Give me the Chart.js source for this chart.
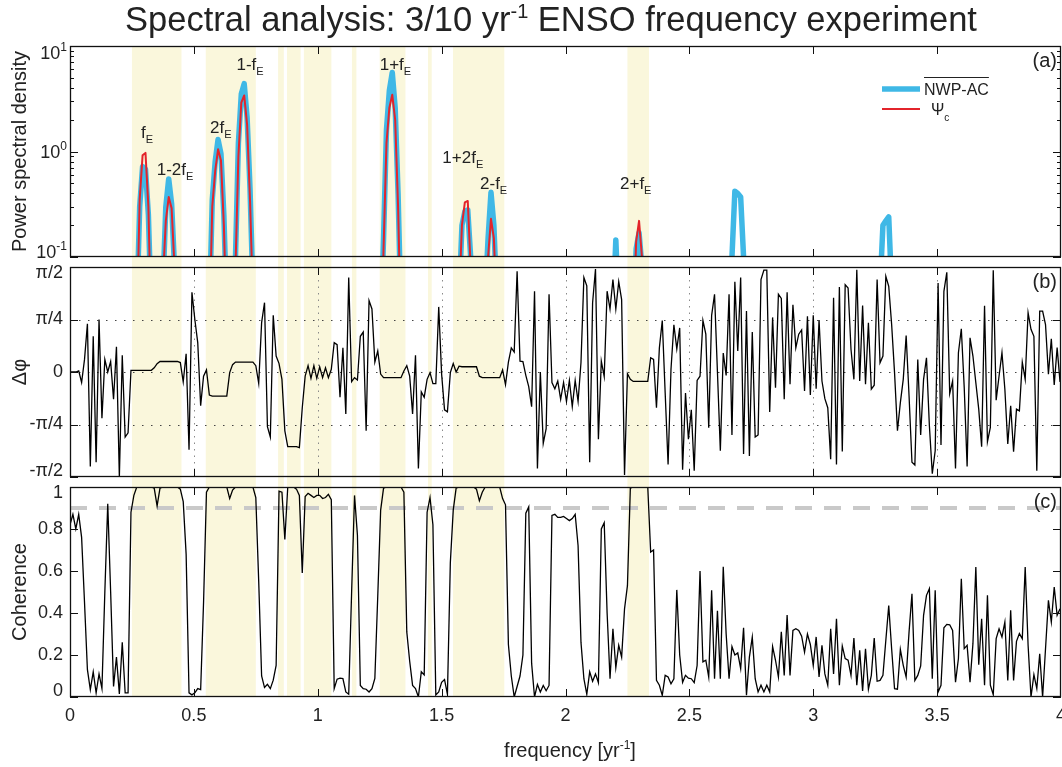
<!DOCTYPE html>
<html>
<head>
<meta charset="utf-8">
<title>Spectral analysis: 3/10 yr-1 ENSO frequency experiment</title>
<script src="https://cdn.jsdelivr.net/npm/chart.js@4.4.1/dist/chart.umd.min.js"></script>
<style>
  body { margin: 0; background: #fff; }
  #wrap { position: relative; width: 1062px; height: 767px; }
  #wrap canvas { position: absolute; left: 0; top: 0; }
</style>
</head>
<body>
<div id="wrap">
  <canvas id="psdChart" width="1062" height="767"></canvas>
  <canvas id="phaseChart" width="1062" height="767"></canvas>
  <canvas id="cohChart" width="1062" height="767"></canvas>
</div>
<script>
// ---- data ---------------------------------------------------------------

// spectral resolution of the estimates [yr^-1]
const DF = 12 / 1024;

const freqTicks = [0, 0.5, 1, 1.5, 2, 2.5, 3, 3.5, 4];
const psdMajorTicks = [0.1, 1, 10];
const psdMinorTicks = [0.2, 0.3, 0.4, 0.5, 0.6, 0.7, 0.8, 0.9, 2, 3, 4, 5, 6, 7, 8, 9];
const phaseTickValues = [-0.5, -0.25, 0, 0.25, 0.5];
const phaseTickLabels = ['-\u03c0/2', '-\u03c0/4', '0', '\u03c0/4', '\u03c0/2'];
const cohTickValues = [0, 0.2, 0.4, 0.6, 0.8, 1];
const cohTickLabels = ['0', '0.2', '0.4', '0.6', '0.8', '1'];
const cohThreshold = 0.9;

// frequency bands where coherence is high (shaded)
const bands = [
  [0.25, 0.45], [0.548, 0.75], [0.84, 0.863], [0.876, 0.931], [0.944, 1.055],
  [1.138, 1.156], [1.25, 1.354], [1.445, 1.46], [1.546, 1.753], [2.25, 2.337]
];

// power spectral density around the peaks: grid index (freq = idx * DF) and value
const nwpIdx = [23, 24, 25, 26, 27, 28, 32, 33, 34, 35, 36, 37, 48, 49, 50, 51, 52, 53, 54,
  57, 58, 59, 60, 61, 62, 63, 107, 108, 109, 110, 111, 112, 113, 114, 134, 135, 136, 137, 138, 139,
  143, 144, 145, 146, 147, 187, 188, 189, 194, 195, 196, 197, 198, 227, 228, 229, 230, 231, 232, 233,
  279, 280, 281, 282, 283];
const nwpPsd = [0.03, 0.3, 0.72, 0.68, 0.25, 0.03, 0.05, 0.3, 0.55, 0.32, 0.08, 0.02,
  0.03, 0.35, 0.8, 1.3, 0.95, 0.25, 0.03, 0.1, 1.2, 3.5, 4.4, 2.1, 0.45, 0.05,
  0.02, 0.15, 1.6, 3.8, 5.6, 2.6, 0.4, 0.03, 0.04, 0.2, 0.27, 0.28, 0.1, 0.02,
  0.04, 0.15, 0.41, 0.2, 0.04, 0.03, 0.145, 0.03, 0.02, 0.12, 0.17, 0.08, 0.02,
  0.02, 0.1, 0.42, 0.4, 0.37, 0.1, 0.02, 0.05, 0.2, 0.22, 0.24, 0.05];
const psiIdx = [23, 24, 25, 26, 27, 28, 32, 33, 34, 35, 36, 37, 48, 49, 50, 51, 52, 53, 54,
  57, 58, 59, 60, 61, 62, 63, 107, 108, 109, 110, 111, 112, 113, 114, 134, 135, 136, 137, 138, 139,
  143, 144, 145, 146, 147, 194, 195, 196, 197, 198];
const psiPsd = [0.02, 0.35, 0.92, 0.97, 0.3, 0.02, 0.06, 0.22, 0.37, 0.29, 0.08, 0.02,
  0.02, 0.3, 0.65, 1.05, 0.82, 0.2, 0.02, 0.08, 0.9, 2.9, 3.4, 1.8, 0.35, 0.04,
  0.01, 0.12, 1.2, 2.6, 3.45, 2.0, 0.3, 0.02, 0.04, 0.2, 0.33, 0.34, 0.08, 0.02,
  0.03, 0.1, 0.23, 0.15, 0.03, 0.02, 0.14, 0.22, 0.1, 0.02];

// peak names (subscript E) with anchor frequency and psd of their baseline
const peakNames = ['f', '1-2f', '2f', '1-f', '1+f', '1+2f', '2-f', '2+f'];
const peakNameFreq = [0.287, 0.35, 0.565, 0.672, 1.25, 1.503, 1.655, 2.22];
const peakNamePsd = [1.33, 0.605, 1.51, 5.98, 5.98, 0.775, 0.44, 0.437];

// phase difference, in units of pi
const phaseOverPi = [
  0, 0, 0, 0.005, -0.05, 0.06, 0.23, -0.45, 0.17, -0.43,
  0.25, -0.22, 0.06, 0, 0.05, -0.13, 0.12, -0.5, 0.08, -0.31,
  -0.29, 0.008, 0.008, 0.008, 0.008, 0.008, 0.008, 0.008, 0.008, 0.02,
  0.04, 0.05, 0.05, 0.05, 0.05, 0.05, 0.05, 0.05, 0.045, -0.047,
  0.087, -0.37, 0.38, 0.25, 0.14, -0.16, -0.02, 0.01, -0.11, -0.115,
  -0.115, -0.115, -0.115, -0.115, -0.115, -0.003, 0.035, 0.047, 0.047, 0.047,
  0.047, 0.047, 0.047, 0.047, 0.03, -0.054, 0.235, 0.33, -0.26, -0.31,
  0.27, 0.076, 0.04, -0.035, -0.28, -0.355, -0.355, -0.355, -0.355, -0.36,
  -0.17, -0.02, 0.03, -0.03, 0.03, -0.03, 0.025, -0.027, 0.02, -0.027,
  0.013, 0.14, 0.13, -0.12, 0.115, -0.2, 0.45, -0.046, -0.027, -0.038,
  0.17, 0.19, -0.28, 0.34, 0.3, 0.047, 0.1, -0.01, -0.027, -0.027,
  -0.027, -0.027, -0.027, -0.027, -0.027, 0.005, 0.03, -0.02, -0.2, 0.08,
  -0.46, -0.095, -0.12, -0.035, -0.003, -0.055, -0.055, 0.31, -0.01, -0.18,
  -0.19, -0.003, 0.04, 0, 0.028, 0.025, 0.025, 0.025, 0.025, 0.025,
  0.025, -0.02, -0.027, -0.027, -0.027, -0.027, -0.027, -0.027, -0.027, 0.01,
  -0.06, 0.047, 0.115, 0.095, 0.48, 0.052, 0.05, -0.016, -0.07, -0.165,
  0.385, -0.46, 0, -0.34, -0.27, 0.37, -0.05, -0.08, -0.043, -0.13,
  -0.05, -0.14, -0.04, -0.165, -0.04, -0.14, 0.045, 0.45, 0.41, -0.43,
  0.33, 0.49, -0.32, 0.052, -0.022, 0.385, 0.3, 0.44, 0.3, 0.43,
  0.345, -0.49, -0.008, -0.035, -0.045, -0.045, -0.045, -0.045, -0.045, -0.045,
  0.068, 0.06, -0.17, 0.115, 0.245, -0.1, -0.44, 0.013, 0.225, 0.11,
  0.21, -0.465, -0.1, -0.32, -0.18, -0.47, -0.04, -0.02, 0.245, 0.18,
  -0.265, 0.27, 0.37, 0, -0.375, 0.09, -0.016, 0.37, -0.3, 0.43,
  0.1, 0.45, -0.39, 0.29, -0.4, 0.19, -0.31, -0.3, 0.44, 0.485,
  0.485, -0.19, 0.26, -0.075, 0.37, 0.35, -0.13, 0.38, -0.058, 0.32,
  0.115, 0.18, 0.2, -0.09, 0.265, -0.11, 0.27, -0.08, 0.247, -0.043,
  -0.127, -0.17, -0.415, 0.353, -0.44, 0.405, -0.378, 0.416, 0.4, 0.108,
  -0.035, 0.487, -0.043, 0.316, -0.058, 0.234, -0.082, -0.063, 0.44, 0.044,
  0.076, 0.456, 0.408, 0.226, -0.003, -0.28, -0.146, -0.035, 0.174, -0.114,
  -0.43, -0.443, 0.06, -0.3, -0.035, 0.068, -0.256, -0.484, -0.375, 0.424,
  -0.348, 0.384, 0.475, -0.103, -0.043, -0.46, 0.092, 0.206, -0.074, -0.45,
  0.163, 0.076, -0.051, -0.177, -0.356, 0.316, -0.332, -0.264, 0.484, -0.134,
  -0.019, 0.092, -0.082, -0.343, -0.161, -0.38, -0.177, -0.185, 0.047, -0.035,
  0.282, 0.203, 0.17, -0.47, 0.29, 0.29, 0.226, -0.011, 0.158, -0.062,
  0.116, -0.047
];

// squared coherence
const coherence = [
  0.82, 0.87, 0.8, 0.87, 0.76, 0.45, 0.13, 0.035, 0.12, 0.02,
  0.11, 0.04, 0.5, 0.92, 0.5, 0.05, 0.19, 0.015, 0.26, 0.02,
  0.02, 0.88, 0.96, 1, 1, 1, 1, 1, 1, 0.995,
  0.91, 0.995, 1, 1, 1, 1, 1, 1, 0.99, 0.93,
  0.68, 0.02, 0.01, 0.02, 0.04, 0.035, 0.45, 0.975, 1, 1,
  1, 1, 1, 1, 1, 0.945, 0.985, 1, 1, 1,
  1, 1, 1, 1, 0.95, 0.55, 0.1, 0.045, 0.06, 0.04,
  0.08, 0.15, 0.98, 0.975, 0.75, 1, 1, 1, 0.99, 0.96,
  0.59, 0.955, 0.97, 0.96, 0.95, 0.96, 0.96, 0.945, 0.95, 0.965,
  0.94, 0.04, 0.085, 0.09, 0.088, 0.024, 0.013, 0.5, 0.96, 0.77,
  0.055, 0.04, 0.037, 0.024, 0.04, 0.088, 0.48, 0.89, 0.995, 1,
  1, 1, 1, 1, 1, 0.975, 0.31, 0.17, 0.055, 0.04,
  0, 0.12, 0.105, 0.88, 0.95, 0.82, 0.01, 0.024, 0.07, 0.083,
  0.013, 0.64, 0.89, 0.995, 1, 1, 1, 1, 1, 1,
  0.99, 0.935, 0.975, 1, 1, 1, 1, 1, 1, 0.945,
  0.915, 0.25, 0.1, 0, 0.05, 0.1, 0.2, 0.875, 0.905, 0.16,
  0, 0.06, 0.024, 0.055, 0.03, 0.055, 0.865, 0.87, 0.855, 0.855,
  0.86, 0.85, 0.84, 0.85, 0.87, 0.72, 0.26, 0.087, 0.013, 0.12,
  0.075, 0.11, 0.068, 0.8, 0.83, 0.4, 0.087, 0.325, 0.14, 0.246,
  0.19, 0.42, 0.53, 0.995, 1, 1, 1, 1, 1, 1,
  0.69, 0.7, 0.08, 0.056, 0.008, 0.103, 0.095, 0.063, 0.087, 0.51,
  0.2, 0.07, 0.103, 0.09, 0.087, 0.068, 0.15, 0.6, 0.167, 0.175,
  0.095, 0.508, 0.087, 0.41, 0.087, 0.62, 0.3, 0.087, 0.24, 0.2,
  0.21, 0.135, 0.33, 0.008, 0.19, 0.285, 0.087, 0.024, 0.056, 0.024,
  0.056, 0.024, 0.24, 0.175, 0.095, 0.31, 0.103, 0.39, 0.103, 0.317,
  0.325, 0.317, 0.29, 0.214, 0.3, 0.25, 0.15, 0.286, 0.095, 0.246,
  0.11, 0.056, 0.325, 0.11, 0.373, 0.056, 0.243, 0.183, 0.175, 0.103,
  0.281, 0.056, 0.222, 0.029, 0.23, 0.037, 0.103, 0.281, 0.075, 0.079,
  0.103, 0.27, 0.435, 0.23, 0.04, 0.037, 0.227, 0.151, 0.095, 0.31,
  0.492, 0.079, 0.103, 0.148, 0.389, 0.484, 0.516, 0.087, 0.508, 0.024,
  0.056, 0.33, 0.346, 0.344, 0.317, 0.071, 0.183, 0.563, 0.23, 0.246,
  0.071, 0.254, 0.619, 0.154, 0.373, 0.056, 0.484, 0.056, 0.011, 0.278,
  0.325, 0.286, 0.357, 0.079, 0.413, 0.079, 0.265, 0.302, 0.278, 0.619,
  0.246, 0, 0.106, 0.04, 0.206, 0, 0.23, 0.46, 0.357, 0.524,
  0.389, 0.42
];

// ---- styling ------------------------------------------------------------

const FONT = '"Liberation Sans", Arial, Helvetica, sans-serif';
const TEXT = '#222';
const BLUE = '#3fb8e6';
const RED = '#e3242b';
const BAND = '#faf7dc';
const TICK = 8;

// draw a run of text pieces (for sub/superscripts): [text, size, dy]
function drawRich(ctx, parts, x, y, align) {
  const widths = parts.map(p => { ctx.font = p[1] + 'px ' + FONT; return ctx.measureText(p[0]).width; });
  const total = widths.reduce((s, w) => s + w, 0);
  let cx = align === 'center' ? x - total / 2 : (align === 'right' ? x - total : x);
  ctx.textAlign = 'left';
  parts.forEach((p, k) => {
    ctx.font = p[1] + 'px ' + FONT;
    ctx.fillText(p[0], cx, y + (p[2] || 0));
    cx += widths[k];
  });
}

function drawYTitle(ctx, text, x, y) {
  ctx.save();
  ctx.translate(x, y);
  ctx.rotate(-Math.PI / 2);
  ctx.font = '20px ' + FONT;
  ctx.fillStyle = TEXT;
  ctx.textAlign = 'center';
  ctx.textBaseline = 'middle';
  ctx.fillText(text, 0, 0);
  ctx.restore();
}

function drawPanelTag(chart, tag) {
  const { ctx, chartArea: a } = chart;
  ctx.save();
  ctx.font = '20px ' + FONT;
  ctx.fillStyle = TEXT;
  ctx.textAlign = 'right';
  ctx.textBaseline = 'middle';
  ctx.fillText(tag, a.right - 4, a.top + 15);
  ctx.restore();
}

// y tick labels; the end labels are kept inside the axis extent (MATLAB style)
function labelY(chart, v) {
  const { chartArea: a, scales: { y } } = chart;
  return Math.min(Math.max(y.getPixelForValue(v), a.top + 6), a.bottom - 6);
}

function drawYLabels(chart, values, labels) {
  const { ctx, chartArea: a } = chart;
  ctx.save();
  ctx.font = '18px ' + FONT;
  ctx.fillStyle = TEXT;
  ctx.textAlign = 'right';
  ctx.textBaseline = 'middle';
  values.forEach((v, k) => ctx.fillText(labels[k], a.left - 7, labelY(chart, v)));
  ctx.restore();
}

// shaded bands, extended into the gaps between panels
function bandsPlugin(extTop, extBottom) {
  return {
    id: 'bands',
    beforeDatasetsDraw(chart) {
      const { ctx, chartArea: a, scales: { x } } = chart;
      ctx.save();
      ctx.fillStyle = BAND;
      bands.forEach(([lo, hi]) => {
        const x0 = x.getPixelForValue(lo);
        const x1 = x.getPixelForValue(hi);
        ctx.fillRect(x0, a.top - extTop, x1 - x0, a.bottom - a.top + extTop + extBottom);
      });
      ctx.restore();
    }
  };
}

// box with inward tick marks
function framePlugin(yMajor, yMinor) {
  return {
    id: 'frame',
    afterDatasetsDraw(chart) {
      const { ctx, chartArea: a, scales: { x, y } } = chart;
      ctx.save();
      ctx.strokeStyle = '#111';
      ctx.lineWidth = 1;
      ctx.beginPath();
      freqTicks.slice(1, -1).forEach(v => {
        const px = Math.round(x.getPixelForValue(v)) + 0.5;
        ctx.moveTo(px, a.top); ctx.lineTo(px, a.top + TICK);
        ctx.moveTo(px, a.bottom); ctx.lineTo(px, a.bottom - TICK);
      });
      const yTick = (v, len) => {
        const py = Math.round(y.getPixelForValue(v)) + 0.5;
        ctx.moveTo(a.left, py); ctx.lineTo(a.left + len, py);
        ctx.moveTo(a.right, py); ctx.lineTo(a.right - len, py);
      };
      yMajor.forEach(v => yTick(v, TICK));
      yMinor.forEach(v => yTick(v, TICK / 2));
      ctx.stroke();
      ctx.lineWidth = 1.3;
      ctx.strokeRect(a.left + 0.5, a.top + 0.5, a.width - 1, a.height - 1);
      ctx.restore();
    }
  };
}

const hiddenX = { type: 'linear', min: 0, max: 4, display: false };

function yBase(extra) {
  return Object.assign({
    grid: { display: false, drawTicks: false },
    border: { display: false },
    ticks: { display: false },
    afterFit: s => { s.width = 70; s.paddingTop = 0; s.paddingBottom = 0; }
  }, extra);
}

const baseOptions = (padding, scales) => ({
  responsive: false,
  animation: false,
  layout: { padding: padding },
  elements: { point: { radius: 0 }, line: { tension: 0 } },
  plugins: { legend: { display: false }, tooltip: { enabled: false } },
  scales: scales
});

// ---- (a) power spectral density ----------------------------------------

const psdText = {
  id: 'psdText',
  afterDraw(chart) {
    const { ctx, chartArea: a, scales: { x, y } } = chart;
    ctx.save();
    ctx.fillStyle = TEXT;
    ctx.textBaseline = 'alphabetic';

    // title
    drawRich(ctx, [['Spectral analysis: 3/10 yr', 34.5], ['-1', 20, -13],
      [' ENSO frequency experiment', 34.5]], 551, 31, 'center');

    // log tick labels
    psdMajorTicks.forEach(v => {
      const exp = Math.round(Math.log10(v));
      drawRich(ctx, [['10', 18], [String(exp), 12, -8]], a.left - 3, labelY(chart, v) + 6.5, 'right');
    });

    // peak names
    peakNames.forEach((name, k) => {
      drawRich(ctx, [[name, 17], ['E', 11, 5]],
        x.getPixelForValue(peakNameFreq[k]), y.getPixelForValue(peakNamePsd[k]), 'left');
    });

    // legend
    const lx = a.right - 179, ly = a.top + 43;
    ctx.lineCap = 'butt';
    ctx.strokeStyle = BLUE; ctx.lineWidth = 5.5;
    ctx.beginPath(); ctx.moveTo(lx, ly); ctx.lineTo(lx + 38, ly); ctx.stroke();
    ctx.strokeStyle = RED; ctx.lineWidth = 2;
    ctx.beginPath(); ctx.moveTo(lx, ly + 20); ctx.lineTo(lx + 38, ly + 20); ctx.stroke();
    ctx.font = '16px ' + FONT;
    ctx.fillText('NWP-AC', lx + 42, ly + 6);
    const w = ctx.measureText('NWP-AC').width;
    ctx.strokeStyle = TEXT; ctx.lineWidth = 1;
    ctx.beginPath(); ctx.moveTo(lx + 42, ly - 11.5); ctx.lineTo(lx + 42 + w, ly - 11.5); ctx.stroke();
    drawRich(ctx, [['\u03a8', 16], ['c', 10, 6]], lx + 49, ly + 26, 'left');

    drawYTitle(ctx, 'Power spectral density', 20, (a.top + a.bottom) / 2);
    ctx.restore();
    drawPanelTag(chart, '(a)');
  }
};

new Chart(document.getElementById('psdChart'), {
  type: 'line',
  data: {
    datasets: [
      {
        label: '\u03a8c',
        data: psiIdx.map((k, j) => ({ x: k * DF, y: psiPsd[j] })),
        borderColor: RED, borderWidth: 2, borderJoinStyle: 'round', clip: 0
      },
      {
        label: 'NWP-AC',
        data: nwpIdx.map((k, j) => ({ x: k * DF, y: nwpPsd[j] })),
        borderColor: BLUE, borderWidth: 5.5, borderJoinStyle: 'round', clip: 0
      }
    ]
  },
  options: baseOptions({ top: 46, bottom: 510, left: 0, right: 1 }, {
    x: hiddenX,
    y: yBase({ type: 'logarithmic', min: 0.1, max: 10 })
  }),
  plugins: [bandsPlugin(0, 5), framePlugin(psdMajorTicks, psdMinorTicks), psdText]
});

// ---- (b) phase difference ----------------------------------------------

const phaseGrid = {
  id: 'phaseGrid',
  beforeDatasetsDraw(chart) {
    const { ctx, chartArea: a, scales: { x, y } } = chart;
    ctx.save();
    ctx.lineWidth = 1;
    ctx.strokeStyle = '#8a8a8a';
    ctx.setLineDash([1.5, 5]);
    ctx.beginPath();
    freqTicks.slice(1, -1).forEach(v => {
      const px = Math.round(x.getPixelForValue(v)) + 0.5;
      ctx.moveTo(px, a.top); ctx.lineTo(px, a.bottom);
    });
    ctx.stroke();
    ctx.strokeStyle = '#444';
    ctx.setLineDash([1.5, 7.5]);
    ctx.beginPath();
    phaseTickValues.slice(1, -1).forEach(v => {
      const py = Math.round(y.getPixelForValue(v)) + 0.5;
      ctx.moveTo(a.left, py); ctx.lineTo(a.right, py);
    });
    ctx.stroke();
    ctx.restore();
  },
  afterDraw(chart) {
    const { ctx, chartArea: a } = chart;
    drawYLabels(chart, phaseTickValues, phaseTickLabels);
    drawYTitle(ctx, '\u0394\u03c6', 20, (a.top + a.bottom) / 2);
    drawPanelTag(chart, '(b)');
  }
};

new Chart(document.getElementById('phaseChart'), {
  type: 'line',
  data: {
    datasets: [{
      label: 'phase',
      data: phaseOverPi.map((v, i) => ({ x: i * DF, y: v })),
      borderColor: '#000', borderWidth: 1.3
    }]
  },
  options: baseOptions({ top: 267, bottom: 290, left: 0, right: 1 }, {
    x: hiddenX,
    y: yBase({ type: 'linear', min: -0.5, max: 0.5 })
  }),
  plugins: [bandsPlugin(5, 5), phaseGrid, framePlugin(phaseTickValues, [])]
});

// ---- (c) coherence ------------------------------------------------------

const cohText = {
  id: 'cohText',
  afterDraw(chart) {
    const { ctx, chartArea: a } = chart;
    drawYLabels(chart, cohTickValues, cohTickLabels);
    drawYTitle(ctx, 'Coherence', 20, (a.top + a.bottom) / 2);
    ctx.save();
    ctx.fillStyle = TEXT;
    ctx.textBaseline = 'alphabetic';
    drawRich(ctx, [['frequency [yr', 20], ['-1', 12, -8], [']', 20]], 570, 757, 'center');
    ctx.restore();
    drawPanelTag(chart, '(c)');
  }
};

new Chart(document.getElementById('cohChart'), {
  type: 'line',
  data: {
    datasets: [
      {
        label: 'coherence',
        data: coherence.map((v, i) => ({ x: i * DF, y: v })),
        borderColor: '#000', borderWidth: 1.3
      },
      {
        label: 'threshold',
        data: [{ x: 0, y: cohThreshold }, { x: 4, y: cohThreshold }],
        borderColor: '#c9c9c9', borderWidth: 4, borderDash: [17, 12]
      }
    ]
  },
  options: baseOptions({ top: 487, bottom: 30, left: 0, right: 1 }, {
    x: {
      type: 'linear', min: 0, max: 4,
      afterBuildTicks: s => { s.ticks = freqTicks.map(v => ({ value: v })); },
      ticks: {
        padding: 8, color: TEXT, font: { size: 18, family: FONT },
        maxRotation: 0, autoSkip: false, callback: v => String(v)
      },
      grid: { display: false, drawTicks: false },
      border: { display: false },
      afterFit: s => { s.height = 40; s.paddingLeft = 0; s.paddingRight = 0; }
    },
    y: yBase({ type: 'linear', min: 0, max: 1 })
  }),
  plugins: [bandsPlugin(5, 0), framePlugin(cohTickValues, []), cohText]
});
</script>
</body>
</html>
